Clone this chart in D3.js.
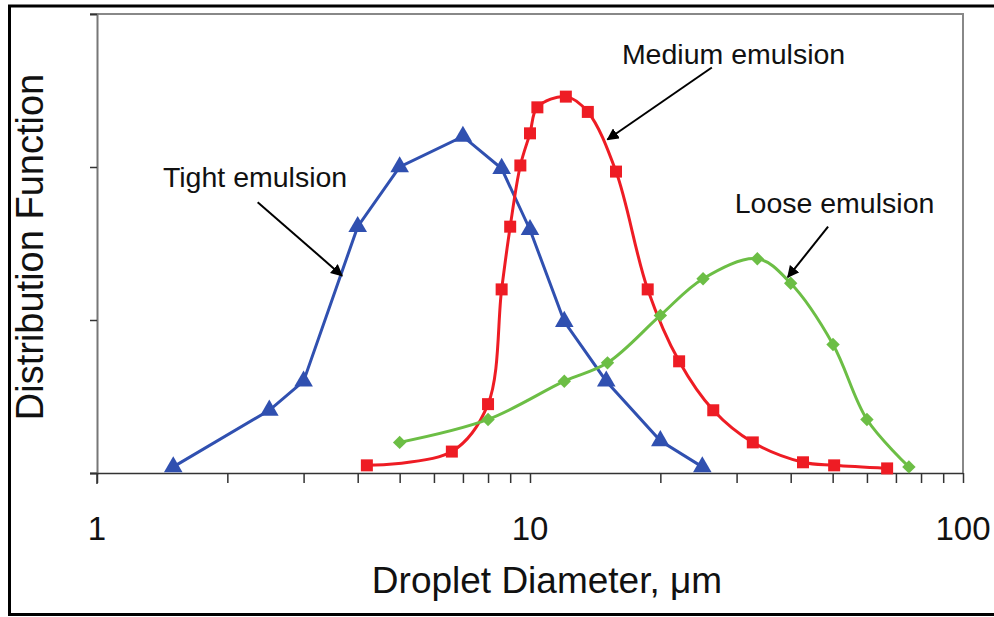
<!DOCTYPE html>
<html>
<head>
<meta charset="utf-8">
<script src="https://cdn.jsdelivr.net/npm/d3@7"></script>
<style>
  body { margin: 0; background: #fff; }
  text { font-family: Arial, "Liberation Sans", sans-serif; fill: #111; }
</style>
</head>
<body>
<svg id="chart" width="994" height="617"></svg>
<script>
// Data (x = droplet diameter in um, y = distribution function, arbitrary units)
const tightX = [1.5, 2.5, 3, 4, 5, 7, 8.6, 10, 12, 15, 20, 25];
const tightY = [0.04, 0.41, 0.60, 1.61, 2.00, 2.20, 1.99, 1.59, 0.99, 0.60, 0.21, 0.04];

const mediumX = [4.2, 6.6, 8, 8.6, 9, 9.5, 10, 10.4, 12.1, 13.6, 15.8, 18.7, 22.1, 26.5, 32.7, 42.7, 50.4, 66.8];
const mediumY = [0.05, 0.14, 0.45, 1.20, 1.61, 2.01, 2.22, 2.39, 2.46, 2.36, 1.97, 1.20, 0.73, 0.41, 0.20, 0.07, 0.05, 0.03];

const looseX = [5, 8, 12, 15.1, 20, 25.1, 33.5, 40, 50.1, 60, 75];
const looseY = [0.20, 0.35, 0.60, 0.72, 1.03, 1.27, 1.40, 1.24, 0.84, 0.35, 0.04];

const xTickLabels = [1, 10, 100];
const yTicks = [0, 1, 2, 3];

const annotations = [
  { text: "Tight emulsion",  tx: 1.42, ty: 1.87, from: [2.35, 1.77], to: [3.68, 1.29] },
  { text: "Medium emulsion", tx: 16.3, ty: 2.67, from: [26.3, 2.65], to: [15.1, 2.18] },
  { text: "Loose emulsion",  tx: 29.7, ty: 1.70, from: [48.8, 1.61], to: [39.4, 1.28] }
];

const svg = d3.select("#chart");
const plot = { left: 97, right: 963, top: 14, bottom: 473 };

const x = d3.scaleLog().domain([1, 100]).range([plot.left, plot.right]);
const y = d3.scaleLinear().domain([0, 3]).range([plot.bottom, plot.top]);

// outer black frame (right side runs off the page)
svg.append("rect")
  .attr("x", 9.5).attr("y", 6).attr("width", 1000).attr("height", 608.5)
  .attr("fill", "none").attr("stroke", "#000").attr("stroke-width", 3);

// plot frame: top and right in grey
svg.append("path")
  .attr("d", `M${plot.left - 7},${plot.top}H${plot.right}V${plot.bottom}`)
  .attr("fill", "none").attr("stroke", "#888").attr("stroke-width", 2);

// y axis (ticks only, no labels)
const yAxis = svg.append("g")
  .attr("transform", `translate(${plot.left},0)`)
  .call(d3.axisLeft(y).tickValues(yTicks).tickSize(7).tickFormat(""));
yAxis.select(".domain").attr("stroke", "#777").attr("stroke-width", 2);
yAxis.selectAll(".tick line").attr("stroke", "#333").attr("stroke-width", 1.5);

// y axis runs a little below the x axis like the original
svg.append("line")
  .attr("x1", plot.left).attr("x2", plot.left)
  .attr("y1", plot.bottom).attr("y2", plot.bottom + 11)
  .attr("stroke", "#333").attr("stroke-width", 1.5);

// x axis, log with minor ticks
const xTicks = [];
for (let d = 1; d < 100; d *= 10) for (let k = 1; k < 10; k++) xTicks.push(d * k);
xTicks.push(100);
const xAxis = svg.append("g")
  .attr("transform", `translate(0,${plot.bottom})`)
  .call(d3.axisBottom(x).tickValues(xTicks).tickSize(10).tickSizeOuter(0).tickFormat(""));
xAxis.select(".domain").attr("stroke", "#333").attr("stroke-width", 1.5)
  .attr("d", `M${plot.left - 7},0.5H${plot.right}`);
xAxis.selectAll(".tick line").attr("stroke", "#333").attr("stroke-width", 1.5);

svg.selectAll(".xlabel")
  .data(xTickLabels)
  .enter().append("text")
  .attr("class", "xlabel")
  .attr("x", d => x(d))
  .attr("y", 540)
  .attr("text-anchor", "middle")
  .attr("font-size", 33)
  .text(d => d);

// axis titles
svg.append("text")
  .attr("x", (plot.left + plot.right) / 2 + 17)
  .attr("y", 593)
  .attr("text-anchor", "middle")
  .attr("font-size", 37)
  .text("Droplet Diameter, \u03bcm");

svg.append("text")
  .attr("transform", "translate(43,247) rotate(-90)")
  .attr("text-anchor", "middle")
  .attr("font-size", 38)
  .text("Distribution Function");

// series
const series = [
  { xs: tightX, ys: tightY, color: "#3050b0", shape: d3.symbolTriangle, rot: 0, curve: d3.curveLinear, size: 150 },
  { xs: mediumX, ys: mediumY, color: "#ee1c24", shape: d3.symbolSquare, rot: 0, curve: d3.curveCatmullRom.alpha(0.5), size: 144 },
  { xs: looseX, ys: looseY, color: "#6cbe45", shape: d3.symbolSquare, rot: 45, curve: d3.curveCatmullRom.alpha(0.5), size: 90 }
];

series.forEach(s => {
  const pts = s.xs.map((v, i) => [v, s.ys[i]]);
  svg.append("path")
    .datum(pts)
    .attr("fill", "none")
    .attr("stroke", s.color)
    .attr("stroke-width", 3)
    .attr("d", d3.line().x(d => x(d[0])).y(d => y(d[1])).curve(s.curve));
  svg.append("g").selectAll("path")
    .data(pts)
    .enter().append("path")
    .attr("transform", d => `translate(${x(d[0])},${y(d[1])}) rotate(${s.rot})`)
    .attr("d", d3.symbol().type(s.shape).size(s.size))
    .attr("fill", s.color);
});

// annotations with arrows
svg.append("defs").append("marker")
  .attr("id", "arrow")
  .attr("viewBox", "0 0 10 10")
  .attr("refX", 9).attr("refY", 5)
  .attr("markerWidth", 6).attr("markerHeight", 6)
  .attr("markerUnits", "strokeWidth")
  .attr("orient", "auto")
  .append("path").attr("d", "M0,0L10,5L0,10z").attr("fill", "#000");

annotations.forEach(a => {
  svg.append("text")
    .attr("x", x(a.tx)).attr("y", y(a.ty))
    .attr("font-size", 28.5)
    .text(a.text);
  svg.append("line")
    .attr("x1", x(a.from[0])).attr("y1", y(a.from[1]))
    .attr("x2", x(a.to[0])).attr("y2", y(a.to[1]))
    .attr("stroke", "#000").attr("stroke-width", 2)
    .attr("marker-end", "url(#arrow)");
});
</script>
</body>
</html>
